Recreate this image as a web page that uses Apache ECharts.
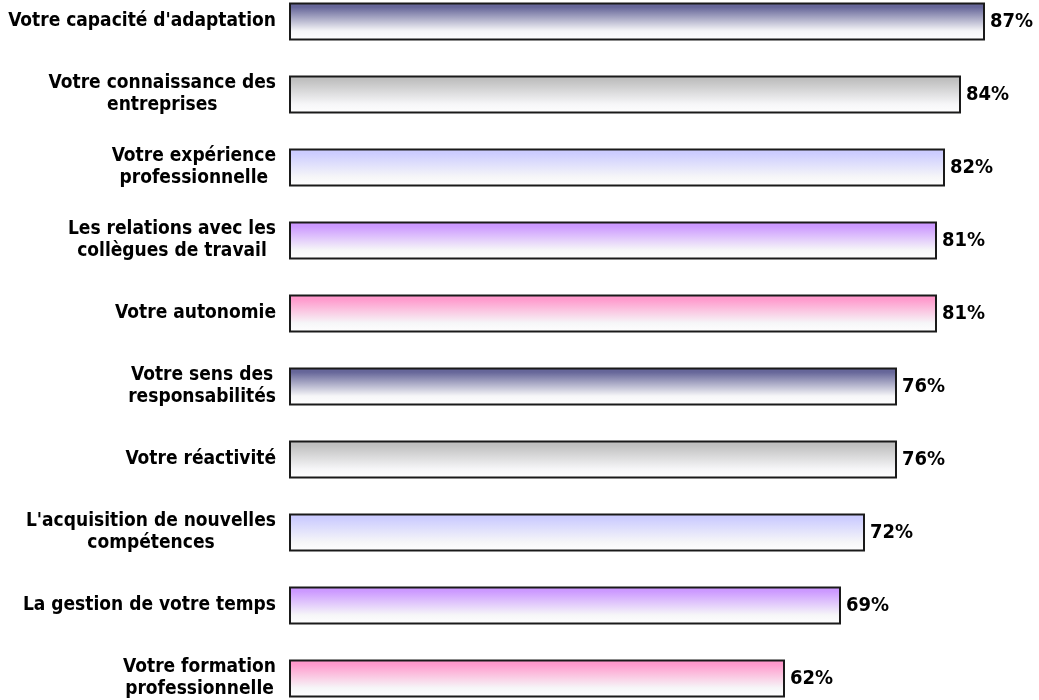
<!DOCTYPE html>
<html>
<head>
  <meta charset="utf-8">
  <title>Compétences</title>
  <script src="https://cdn.jsdelivr.net/npm/echarts@6/dist/echarts.min.js"></script>
</head>
<style>
  html,
  body {
    height: 100%;
    margin: 0;
    padding: 0;
    background: #fff;
    overflow: hidden;
  }
  #chart {
    position: absolute;
    left: 0;
    top: -15px;
    width: 1039px;
    height: 730px;
  }
</style>

<body>
  <div id="chart"></div>
  <script>
    // libellés (de haut en bas) et pourcentages
    const categories = [
      "Votre capacité d'adaptation",
      'Votre connaissance des\nentreprises',
      'Votre expérience\nprofessionnelle',
      'Les relations avec les\ncollègues de travail',
      'Votre autonomie',
      'Votre sens des\nresponsabilités',
      'Votre réactivité',
      "L'acquisition de nouvelles\ncompétences",
      'La gestion de votre temps',
      'Votre formation\nprofessionnelle'
    ];
    const values = [87, 84, 82, 81, 81, 76, 76, 72, 69, 62];

    // couleurs de départ du dégradé, en boucle
    const palette = ['#666699', '#c0c0c0', '#ccccff', '#cc99ff', '#ff99cc'];

    function gradient(c) {
      return new echarts.graphic.LinearGradient(0, 0, 0, 1, [
        { offset: 0, color: c },
        { offset: 0.12, color: c },
        { offset: 0.75, color: '#f6f6f8' },
        { offset: 1, color: '#ffffff' }
      ]);
    }

    const labelFont = {
      fontFamily: 'DejaVu Sans Condensed',
      fontWeight: 'bold',
      fontSize: 19,
      lineHeight: 22,
      color: '#000'
    };

    const chart = echarts.init(document.getElementById('chart'));
    chart.setOption({
      animation: false,
      grid: { left: 289, right: 30, top: 0, bottom: 0, containLabel: false },
      xAxis: {
        type: 'value',
        min: 0,
        max: 90,
        show: false
      },
      yAxis: {
        type: 'category',
        inverse: true,
        data: categories,
        axisLine: { show: false },
        axisTick: { show: false },
        axisLabel: Object.assign({
          margin: 13,
          align: 'right',
          // lignes centrées entre elles, bloc aligné à droite
          formatter: v => v.split('\n').map(l => '{c|' + l + '}').join('\n'),
          rich: { c: Object.assign({ align: 'center' }, labelFont) }
        }, labelFont)
      },
      series: [{
        type: 'bar',
        barWidth: 38,
        data: values.map((v, i) => ({
          value: v,
          itemStyle: {
            color: gradient(palette[i % palette.length]),
            borderColor: '#1a1a1a',
            borderWidth: 2
          }
        })),
        label: {
          show: true,
          position: 'right',
          distance: 5,
          formatter: '{c}%',
          fontFamily: 'DejaVu Sans Condensed',
          fontWeight: 'bold',
          fontSize: 20,
          color: '#000'
        }
      }]
    });
  </script>
</body>
</html>
